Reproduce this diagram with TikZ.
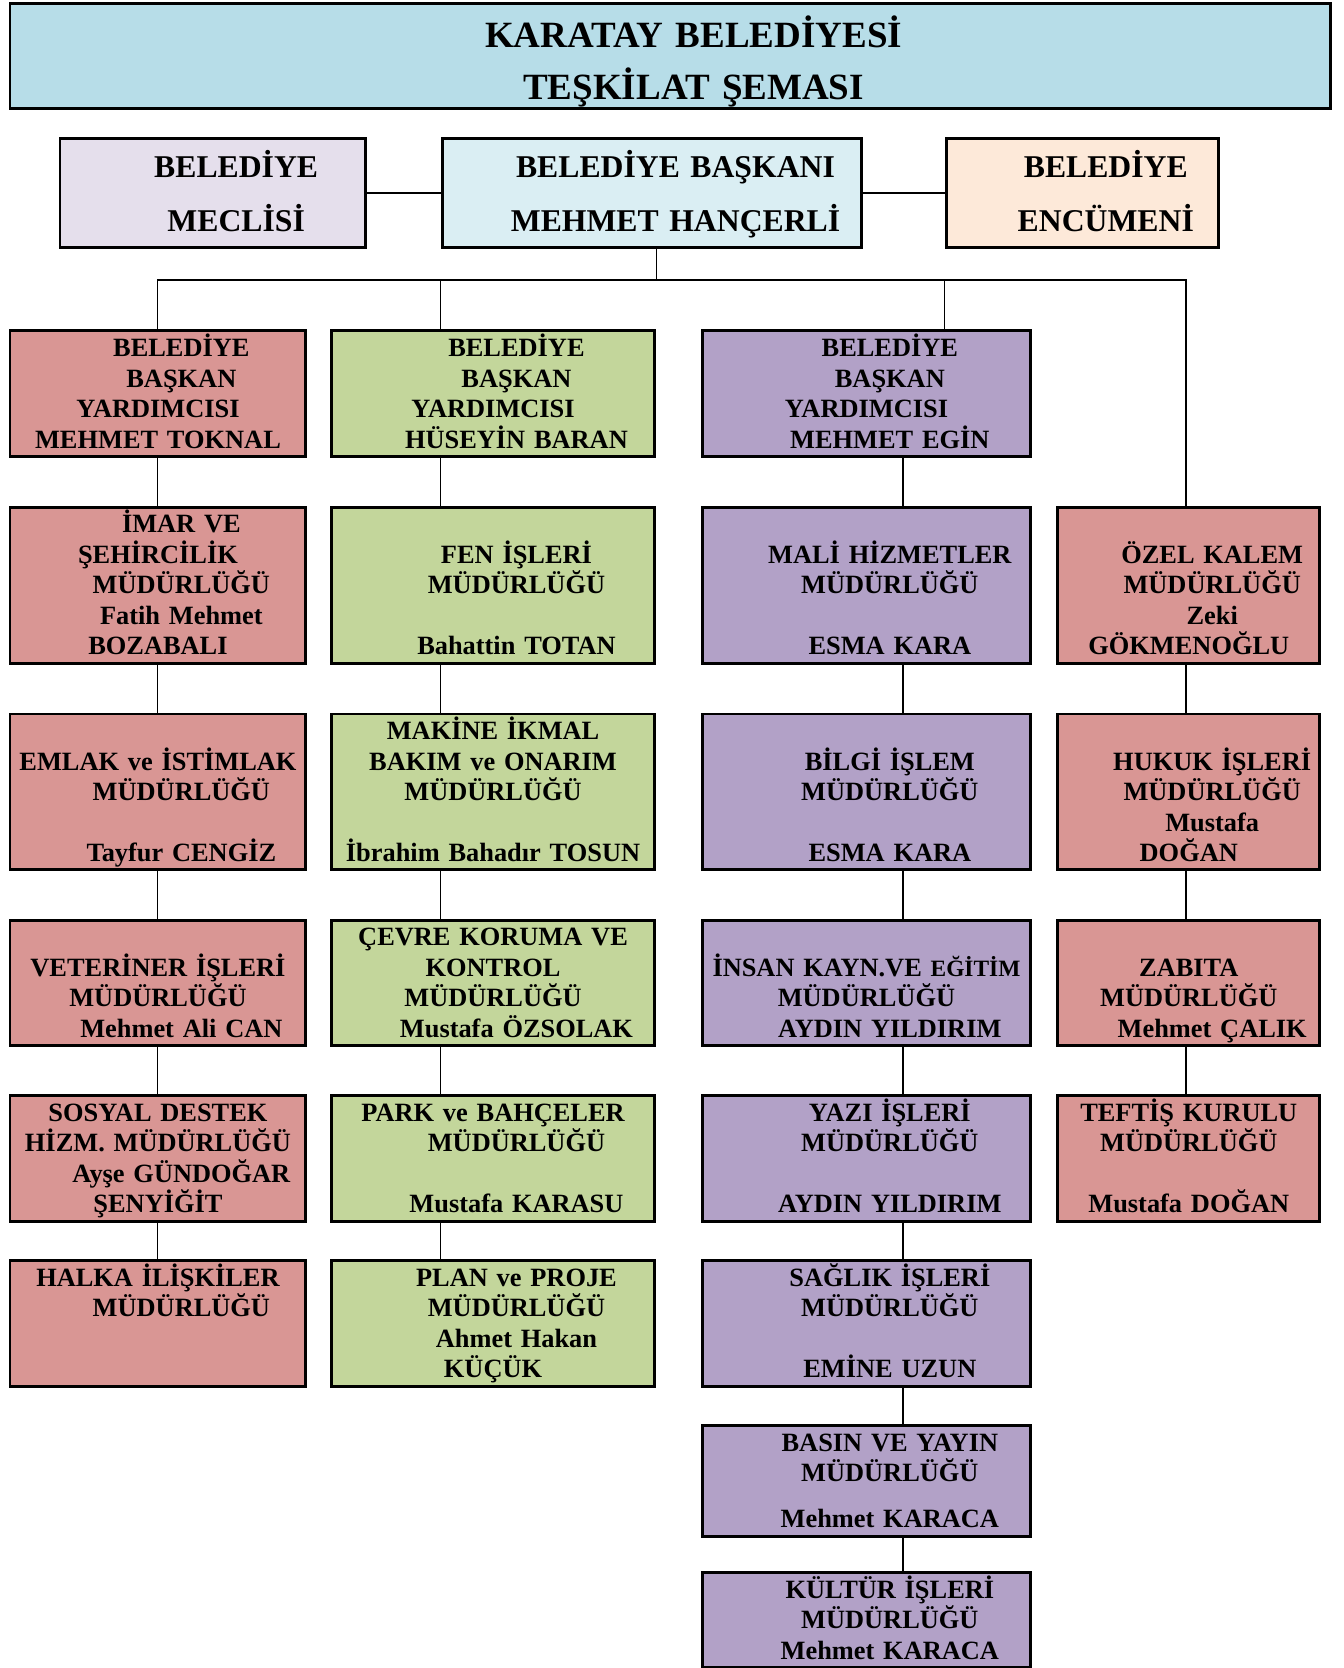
\documentclass[tikz,border=0pt]{standalone}
\usepackage{fontspec}
\setmainfont{Liberation Serif}
\definecolor{cTitle}{HTML}{B7DDE8}
\definecolor{cMeclis}{HTML}{E5DFEC}
\definecolor{cBaskan}{HTML}{DAEEF3}
\definecolor{cEncumen}{HTML}{FDE9D9}
\definecolor{cRed}{HTML}{D99694}
\definecolor{cGreen}{HTML}{C3D69B}
\definecolor{cPurple}{HTML}{B2A1C7}
\newcommand{\boxfont}{\fontsize{12.4pt}{14.33pt}\selectfont\bfseries\lineskiplimit=-100pt}
\newcommand{\headfont}{\fontsize{14.9pt}{25.5pt}\selectfont\bfseries\lineskiplimit=-100pt}
\newcommand{\titlefont}{\fontsize{17.4pt}{24.5pt}\selectfont\bfseries\lineskiplimit=-100pt}
\newcommand{\boxst}{\rule[-3.9pt]{0pt}{16pt}}
\newcommand{\headst}{\rule[-7.55pt]{0pt}{26pt}}
\newcommand{\titlest}{\rule[-4.25pt]{0pt}{25pt}}
\newcommand{\shft}{\hspace*{22pt}}
\tikzset{
    kutu/.style={draw, line width=1.4pt, inner sep=0pt, align=center, font=\boxfont,
        execute at begin node=\boxst, execute at end node=\boxst},
    redbox/.style={kutu, fill=cRed},
    greenbox/.style={kutu, fill=cGreen},
    purplebox/.style={kutu, fill=cPurple},
    headbox/.style={kutu, font=\headfont, minimum height=50.1pt,
        execute at begin node=\headst, execute at end node=\headst},
    col1/.style={text width=139.1pt},
    col2/.style={text width=152.1pt},
    col3/.style={text width=154.1pt},
    col4/.style={text width=123.1pt},
    h4/.style={minimum height=57.6pt},
    h5/.style={minimum height=71.9pt},
    link/.style={line width=0.8pt},
}
\begin{document}
\begin{tikzpicture}[x=0.5pt, y=-0.5pt]
    \useasboundingbox (0,0) rectangle (1263,1568);
    % baslik
    \node[kutu, fill=cTitle, font=\titlefont, text width=620.6pt, minimum height=48.1pt,
        execute at begin node=\titlest, execute at end node=\titlest] (baslik) at (630,52.5)
        {\shft KARATAY BELEDİYESİ\\ \shft TEŞKİLAT ŞEMASI};
    \node[headbox, fill=cMeclis, text width=143.6pt] (meclis) at (200,181.5) {\shft BELEDİYE\\ \shft MECLİSİ};
    \node[headbox, fill=cBaskan, text width=196.6pt] (baskan) at (613,181.5) {\shft BELEDİYE BAŞKANI\\ \shft MEHMET HANÇERLİ};
    \node[headbox, fill=cEncumen, text width=128.1pt] (encumen) at (1017.5,181.5) {\shft BELEDİYE\\ \shft ENCÜMENİ};
    % 1. kolon
    \node[redbox, col1, h4] (toknal) at (148.5,370) {\shft BELEDİYE\\ \shft BAŞKAN\\ YARDIMCISI\\ MEHMET TOKNAL};
    \node[redbox, col1, h5] (imar) at (148.5,550) {\shft İMAR VE\\ ŞEHİRCİLİK\\ \shft MÜDÜRLÜĞÜ\\ \shft Fatih Mehmet\\ BOZABALI};
    \node[redbox, col1, h5] (emlak) at (148.5,744.5) {\boxst\\ EMLAK ve İSTİMLAK\\ \shft MÜDÜRLÜĞÜ\\ \boxst\\ \shft Tayfur CENGİZ};
    \node[redbox, col1, h4] (veteriner) at (148.5,924) {\boxst\\ VETERİNER İŞLERİ\\ MÜDÜRLÜĞÜ\\ \shft Mehmet Ali CAN};
    \node[redbox, col1, h4] (sosyal) at (148.5,1089) {SOSYAL DESTEK\\ HİZM. MÜDÜRLÜĞÜ\\ \shft Ayşe GÜNDOĞAR\\ ŞENYİĞİT};
    \node[redbox, col1, h4] (halka) at (148.5,1244) {HALKA İLİŞKİLER\\ \shft MÜDÜRLÜĞÜ\\ \boxst\\ \boxst};
    % 2. kolon
    \node[greenbox, col2, h4] (baran) at (463.5,370) {\shft BELEDİYE\\ \shft BAŞKAN\\ YARDIMCISI\\ \shft HÜSEYİN BARAN};
    \node[greenbox, col2, h5] (fen) at (463.5,550) {\boxst\\ \shft FEN İŞLERİ\\ \shft MÜDÜRLÜĞÜ\\ \boxst\\ \shft Bahattin TOTAN};
    \node[greenbox, col2, h5] (makine) at (463.5,744.5) {MAKİNE İKMAL\\ BAKIM ve ONARIM\\ MÜDÜRLÜĞÜ\\ \boxst\\ İbrahim Bahadır TOSUN};
    \node[greenbox, col2, h4] (cevre) at (463.5,924) {ÇEVRE KORUMA VE\\ KONTROL\\ MÜDÜRLÜĞÜ\\ \shft Mustafa ÖZSOLAK};
    \node[greenbox, col2, h4] (park) at (463.5,1089) {PARK ve BAHÇELER\\ \shft MÜDÜRLÜĞÜ\\ \boxst\\ \shft Mustafa KARASU};
    \node[greenbox, col2, h4] (plan) at (463.5,1244) {\shft PLAN ve PROJE\\ \shft MÜDÜRLÜĞÜ\\ \shft Ahmet Hakan\\ KÜÇÜK};
    % 3. kolon
    \node[purplebox, col3, h4] (egin) at (814.5,370) {\shft BELEDİYE\\ \shft BAŞKAN\\ YARDIMCISI\\ \shft MEHMET EGİN};
    \node[purplebox, col3, h5] (mali) at (814.5,550) {\boxst\\ \shft MALİ HİZMETLER\\ \shft MÜDÜRLÜĞÜ\\ \boxst\\ \shft ESMA KARA};
    \node[purplebox, col3, h5] (bilgi) at (814.5,744.5) {\boxst\\ \shft BİLGİ İŞLEM\\ \shft MÜDÜRLÜĞÜ\\ \boxst\\ \shft ESMA KARA};
    \node[purplebox, col3, h4] (insan) at (814.5,924) {\boxst\\ İNSAN KAYN.VE {\fontsize{11pt}{14.33pt}\selectfont EĞİTİM}\\ MÜDÜRLÜĞÜ\\ \shft AYDIN YILDIRIM};
    \node[purplebox, col3, h4] (yazi) at (814.5,1089) {\shft YAZI İŞLERİ\\ \shft MÜDÜRLÜĞÜ\\ \boxst\\ \shft AYDIN YILDIRIM};
    \node[purplebox, col3, h4] (saglik) at (814.5,1244) {\shft SAĞLIK İŞLERİ\\ \shft MÜDÜRLÜĞÜ\\ \boxst\\ \shft EMİNE UZUN};
    \node[purplebox, col3, minimum height=50.6pt] (basin) at (814.5,1392) {\shft BASIN VE YAYIN\\ \shft MÜDÜRLÜĞÜ\\[7.5pt] \shft Mehmet KARACA};
    \node[purplebox, col3, minimum height=41.6pt] (kultur) at (814.5,1523) {\shft KÜLTÜR İŞLERİ\\ \shft MÜDÜRLÜĞÜ\\ \shft Mehmet KARACA};
    % 4. kolon
    \node[redbox, col4, h5] (ozel) at (1117.5,550) {\boxst\\ \shft ÖZEL KALEM\\ \shft MÜDÜRLÜĞÜ\\ \shft Zeki\\ GÖKMENOĞLU};
    \node[redbox, col4, h5] (hukuk) at (1117.5,744.5) {\boxst\\ \shft HUKUK İŞLERİ\\ \shft MÜDÜRLÜĞÜ\\ \shft Mustafa\\ DOĞAN};
    \node[redbox, col4, h4] (zabita) at (1117.5,924) {\boxst\\ ZABITA\\ MÜDÜRLÜĞÜ\\ \shft Mehmet ÇALIK};
    \node[redbox, col4, h4] (teftis) at (1117.5,1089) {TEFTİŞ KURULU\\ MÜDÜRLÜĞÜ\\ \boxst\\ Mustafa DOĞAN};
    % baglantilar
    \coordinate (bus) at (617,263);
    \coordinate (j1) at (148,263);
    \coordinate (j2) at (414,263);
    \coordinate (j3) at (888,263);
    \coordinate (j4) at (1115,263);
    \coordinate (k3) at (849,263);
    \draw[link] (meclis) -- (baskan);
    \draw[link] (baskan) -- (encumen);
    \draw[link] (baskan.south -| bus) -- (bus);
    \draw[link] (j1 |- toknal.north) -- (j1) -- (j4) -- (j4 |- ozel.north);
    \draw[link] (j2) -- (j2 |- baran.north);
    \draw[link] (j3) -- (j3 |- egin.north);
    \foreach \a/\b in {toknal/imar, imar/emlak, emlak/veteriner, veteriner/sosyal, sosyal/halka}
        \draw[link] (\a.south -| j1) -- (\b.north -| j1);
    \foreach \a/\b in {baran/fen, fen/makine, makine/cevre, cevre/park, park/plan}
        \draw[link] (\a.south -| j2) -- (\b.north -| j2);
    \foreach \a/\b in {egin/mali, mali/bilgi, bilgi/insan, insan/yazi, yazi/saglik, saglik/basin, basin/kultur}
        \draw[link] (\a.south -| k3) -- (\b.north -| k3);
    \foreach \a/\b in {ozel/hukuk, hukuk/zabita, zabita/teftis}
        \draw[link] (\a.south -| j4) -- (\b.north -| j4);
\end{tikzpicture}
\end{document}
